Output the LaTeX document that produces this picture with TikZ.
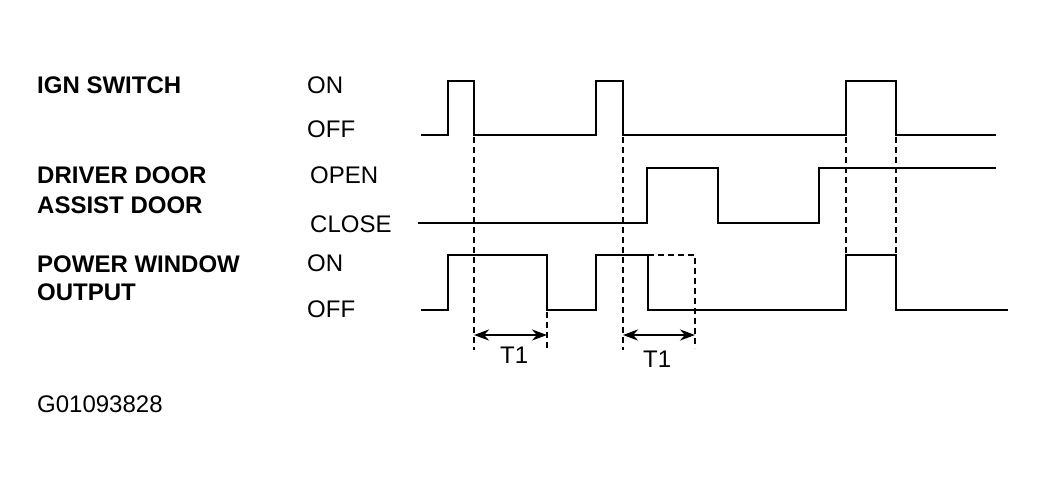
\documentclass[tikz,border=0pt]{standalone}
\usepackage{fontspec}
\setmainfont{Liberation Sans}
\usetikzlibrary{arrows.meta}
\tikzset{
  sig/.style={line width=2.8pt,line cap=rect},
  guide/.style={line width=2pt,dash pattern=on 6pt off 4pt},
  span/.style={line width=2.6pt,{Stealth[length=15pt,width=11pt]}-{Stealth[length=15pt,width=11pt]}},
  head/.style={anchor=base west,font=\fontsize{24}{28}\selectfont\bfseries},
  level/.style={anchor=base west,font=\fontsize{24}{28}\selectfont}
}
\begin{document}
\begin{tikzpicture}[x=1pt,y=-1pt,inner sep=0pt]
      \useasboundingbox (0,0) rectangle (1046,488);
      % signal names
      \draw
        (37,93) node[head] (ign) {IGN SWITCH}
        (37,183) node[head] (drv) {DRIVER DOOR}
        (37,213) node[head] (ast) {ASSIST DOOR}
        (37,272) node[head] (pwr) {POWER WINDOW}
        (37,300) node[head] (out) {OUTPUT}
        (37,412) node[level] (code) {G01093828};
      % levels
      \draw
        (307,93) node[level] (ignon) {ON}
        (307,137) node[level] (ignoff) {OFF}
        (310,183) node[level] (open) {OPEN}
        (310,232) node[level] (close) {CLOSE}
        (307,271) node[level] (pwron) {ON}
        (307,317) node[level] (pwroff) {OFF};
      % waveforms
      \draw[sig] (422,135) -| (448,81) -| (474,135) -| (596,81) -| (623,135)
        -| (846,81) -| (896,135) -- (995,135);
      \draw[sig] (419,223) -| (647,168) -| (718,223) -| (819,168) -- (995,168);
      \draw[sig] (422,310) -| (448,255) -| (547,310) -| (596,255) -| (648,310)
        -| (846,255) -| (896,310) -- (1007,310);
      % timer marks
      \coordinate (a1) at (474,335);
      \coordinate (b1) at (547,335);
      \coordinate (a2) at (623,335);
      \coordinate (b2) at (695,335);
      \draw[guide] (648,255) -- (695,255) -- (695,348);
      \draw[guide]
        (474,137) -- (474,350)
        (623,137) -- (623,350)
        (547,312) -- (547,350)
        (846,137) -- (846,253)
        (896,137) -- (896,253);
      \draw[span] (a1) -- (b1);
      \draw[span] (a2) -- (b2);
      \draw
        (500,363) node[level] (t1a) {T1}
        (643,367) node[level] (t1b) {T1};
    \end{tikzpicture}
\end{document}
